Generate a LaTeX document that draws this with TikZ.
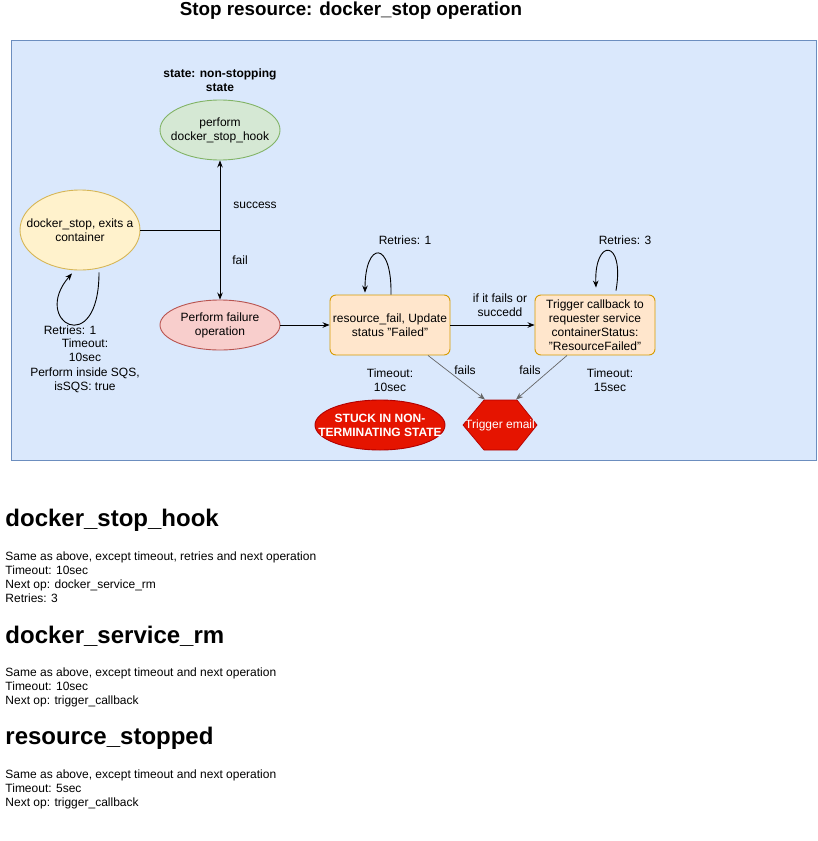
\documentclass[tikz,border=0pt]{standalone}
\usepackage{fontspec}
\setmainfont{Liberation Sans}
\usetikzlibrary{shapes.geometric, arrows.meta, positioning}

\definecolor{panelfill}{HTML}{DAE8FC}
\definecolor{panelline}{HTML}{6C8EBF}
\definecolor{greenfill}{HTML}{D5E8D4}
\definecolor{greenline}{HTML}{82B366}
\definecolor{yellowfill}{HTML}{FFF2CC}
\definecolor{yellowline}{HTML}{D6B656}
\definecolor{pinkfill}{HTML}{F8CECC}
\definecolor{pinkline}{HTML}{B85450}
\definecolor{taskfill}{HTML}{FFE6CC}
\definecolor{taskline}{HTML}{D79B00}
\definecolor{alarmfill}{HTML}{E51400}
\definecolor{alarmline}{HTML}{B20000}

\newcommand{\diofont}{\fontsize{12}{14}\selectfont}

\begin{document}
\begin{tikzpicture}[
    x=1pt, y=-1pt,
    >={Stealth[length=7pt, width=5.5pt]},
    line width=0.9pt,
    note/.style={align=center, inner sep=0pt, font=\diofont},
    oval/.style={ellipse, draw, minimum width=120pt, minimum height=60pt, inner sep=0pt},
    task/.style={rectangle, rounded corners=6pt, draw=taskline, fill=taskfill,
                 minimum width=120pt, minimum height=60pt, align=center,
                 inner sep=1pt, font=\diofont},
    fails/.style={black!60, line width=0.7pt},
    heading/.style={anchor=west, inner sep=0pt, font=\fontsize{24}{28}\selectfont\bfseries},
    body/.style={anchor=north west, align=left, inner sep=0pt, font=\diofont}
]
\useasboundingbox (0,0) rectangle (817,841);

\node[font=\fontsize{18.8}{22}\selectfont\bfseries] (title) at (351,11)
    {Stop resource: docker\_stop operation};

\draw[fill=panelfill, draw=panelline, line width=0.7pt] (11,40) rectangle (816,460);

% states
\node[note, font=\diofont\bfseries] (state) at (220,80) {state: non-stopping\\state};
\node[oval, fill=greenfill, draw=greenline,
      label={[note]center:{perform\\docker\_stop\_hook}}] (hook) at (220,130) {};
\node[oval, fill=yellowfill, draw=yellowline, minimum height=80pt,
      label={[note]center:{docker\_stop, exits a\\container}}] (stop) at (80,230) {};
\node[oval, fill=pinkfill, draw=pinkline, minimum height=50pt,
      label={[note]center:{Perform failure\\operation}}] (failop) at (220,325) {};
\node[task] (rfail) at (390,325) {resource\_fail, Update\\status "Failed"};
\node[task] (callback) at (595,325)
    {Trigger callback to\\requester service\\containerStatus:\\"ResourceFailed"};
\node[oval, fill=alarmfill, draw=alarmline, minimum width=130pt, minimum height=50pt,
      label={[note, text=white, font=\diofont\bfseries]center:{STUCK IN NON-\\TERMINATING STATE}}]
    (stuck) at (380,425) {};
\filldraw[fill=alarmfill, draw=alarmline, line width=0.7pt]
    (463,425) -- (484,400) -- (517,400) -- (537,425) -- (517,450) -- (484,450) -- cycle;
\node[note, text=white, minimum width=74pt, minimum height=50pt] (email) at (500,425) {Trigger email};

% connectors
\coordinate (split) at (hook.south |- stop.east);
\draw (stop.east) -- (split);
\draw[->] (split) -- (hook.south);
\draw[->] (split) -- (failop.north);
\node[note] at (255,205) {success};
\node[note] at (240,260) {fail};

\draw[->] ([xshift=19pt, yshift=-2pt]stop.south) .. controls +(0,88) and +(-42,48)
    .. ([xshift=-8pt, yshift=-3pt]stop.south);
\node[note] at (70,330) {Retries: 1};
\node[note] at (85,350) {Timeout:\\10sec};
\node[note] at (85,380) {Perform inside SQS,\\isSQS: true};

\draw[->] (failop.east) -- (rfail.west);
\draw[->] (rfail.east) -- (callback.west);
\node[note] at (500,305) {if it fails or\\succedd};

\draw[->] ([xshift=1pt]rfail.north) .. controls +(1,-55) and +(0,-52)
    .. ([xshift=-25pt, yshift=2pt]rfail.north);
\node[note] at (405,240) {Retries: 1};
\draw[->] ([xshift=21pt, yshift=4pt]callback.north) .. controls +(9,-52) and +(-2,-50)
    .. ([xshift=1pt, yshift=7pt]callback.north);
\node[note] at (625,240) {Retries: 3};

\draw[->, fails] ([xshift=38pt]rfail.south) -- ([xshift=-15pt]email.north);
\draw[->, fails] ([xshift=-28pt]callback.south) -- ([xshift=16pt]email.north);
\node[note] at (465,370) {fails};
\node[note] at (530,370) {fails};
\node[note] at (390,380) {Timeout:\\10sec};
\node[note] at (610,380) {Timeout:\\15sec};

% notes below
\node[heading] (hookhead) at (5,520) {docker\_stop\_hook};
\node[body] (hookbody) at (5,551) {Same as above, except timeout, retries and next operation\\
    Timeout: 10sec\\Next op: docker\_service\_rm\\Retries: 3};
\node[heading] (rmhead) at (5,636) {docker\_service\_rm};
\node[body] (rmbody) at (5,667) {Same as above, except timeout and next operation\\
    Timeout: 10sec\\Next op: trigger\_callback};
\node[heading] (stophead) at (5,738) {resource\_stopped};
\node[body] (stopbody) at (5,769) {Same as above, except timeout and next operation\\
    Timeout: 5sec\\Next op: trigger\_callback};
\end{tikzpicture}
\end{document}
